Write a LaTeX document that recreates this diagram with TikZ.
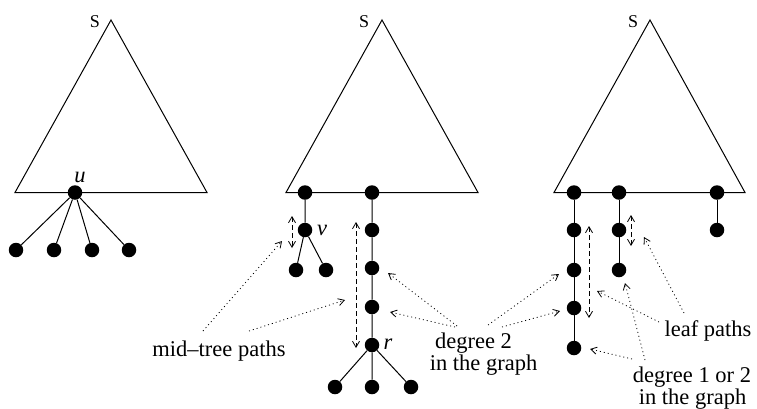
\documentclass[tikz,border=0pt]{standalone}
\usepackage{fontspec}
\setmainfont{Liberation Serif}
\usetikzlibrary{arrows.meta}
\begin{document}
\begin{tikzpicture}[x=1pt,y=-1pt,
  dot/.style={circle,fill=black,inner sep=0pt,minimum size=14.5pt},
  edge/.style={line width=1pt},
  tri/.style={line width=1pt,line join=miter},
  lbl/.style={font=\fontsize{22.5}{24}\selectfont,inner sep=0pt},
  ilbl/.style={font=\fontsize{22.5}{24}\selectfont\itshape,inner sep=0pt},
  slbl/.style={font=\fontsize{18}{19}\selectfont,inner sep=0pt},
  span/.style={dash pattern=on 5pt off 3pt,line width=0.8pt,
    {Straight Barb[length=6pt,width=7pt]}-{Straight Barb[length=6pt,width=7pt]}},
  ptr/.style={dash pattern=on 1pt off 3pt,line width=0.8pt,
    -{Straight Barb[length=6pt,width=7pt]}}]
\useasboundingbox (0,0) rectangle (757,408);

% ---------- triangles ----------
\coordinate (A1) at (111,20); \coordinate (L1) at (15,192.5); \coordinate (R1) at (207,192.5);
\coordinate (A2) at (382,20); \coordinate (L2) at (286,192.5); \coordinate (R2) at (478,192.5);
\coordinate (A3) at (650,20); \coordinate (L3) at (554,192.5); \coordinate (R3) at (745,192.5);
\draw[tri] (A1) -- (L1) -- (R1) -- cycle;
\draw[tri] (A2) -- (L2) -- (R2) -- cycle;
\draw[tri] (A3) -- (L3) -- (R3) -- cycle;
\node[slbl] (s1) at (95,22) {S};
\node[slbl] (s2) at (364,22) {S};
\node[slbl] (s3) at (633,22) {S};

% ---------- tree 1 ----------
\node[dot] (u) at (75,192.5) {};
\node[dot] (u1) at (16,250) {};
\node[dot] (u2) at (54,250) {};
\node[dot] (u3) at (92,250) {};
\node[dot] (u4) at (129,250) {};
\foreach \c in {u1,u2,u3,u4} \draw[edge] (u) -- (\c);
\node[ilbl] (ul) at (80,177) {u};

% ---------- tree 2 ----------
\node[dot] (a) at (305,192.5) {};
\node[dot] (v) at (305,230) {};
\node[dot] (v1) at (296,270) {};
\node[dot] (v2) at (326,270) {};
\draw[edge] (a) -- (v) (v) -- (v1) (v) -- (v2);
\node[ilbl] (vl) at (322,230) {v};

\node[dot] (b) at (372,192.5) {};
\node[dot] (c1) at (372,230) {};
\node[dot] (c2) at (372,268) {};
\node[dot] (c3) at (372,307) {};
\node[dot] (r) at (372,345) {};
\node[dot] (r1) at (335,387) {};
\node[dot] (r2) at (372,387) {};
\node[dot] (r3) at (411,387) {};
\draw[edge] (b) -- (c1) (c1) -- (c2) (c2) -- (c3) (c3) -- (r)
  (r) -- (r1) (r) -- (r2) (r) -- (r3);
\node[ilbl] (rl) at (388,344) {r};

\coordinate (va) at (292,216); \coordinate (vb) at (292,248);
\draw[span] (va) -- (vb);
\coordinate (ca) at (356,222); \coordinate (cb) at (356,348);
\draw[span] (ca) -- (cb);

% ---------- tree 3 ----------
\node[dot] (d1) at (574,192.5) {};
\node[dot] (d2) at (574,230) {};
\node[dot] (d3) at (574,270) {};
\node[dot] (d4) at (574,308) {};
\node[dot] (d5) at (574,348) {};
\draw[edge] (d1) -- (d2) (d2) -- (d3) (d3) -- (d4) (d4) -- (d5);
\node[dot] (e1) at (619,192.5) {};
\node[dot] (e2) at (619,230) {};
\node[dot] (e3) at (619,270) {};
\draw[edge] (e1) -- (e2) (e2) -- (e3);
\node[dot] (f1) at (717,192.5) {};
\node[dot] (f2) at (717,230) {};
\draw[edge] (f1) -- (f2);

\coordinate (da) at (589,226); \coordinate (db) at (589,318);
\draw[span] (da) -- (db);
\coordinate (ea) at (631,215); \coordinate (eb) at (631,246);
\draw[span] (ea) -- (eb);

% ---------- labels ----------
\node[lbl,anchor=base] (mid) at (219,356) {mid–tree paths};
\node[lbl,anchor=base] (deg2a) at (473.5,348) {degree 2};
\node[lbl,anchor=base] (deg2b) at (483.5,370.5) {in the graph};
\node[lbl,anchor=base] (leaf) at (708,336) {leaf paths};
\node[lbl,anchor=base] (deg1a) at (692,382) {degree 1 or 2};
\node[lbl,anchor=base] (deg1b) at (692.5,404) {in the graph};

% ---------- pointers ----------
\coordinate (m1s) at (203,331); \coordinate (m1t) at (282,241);
\coordinate (m2s) at (249,331); \coordinate (m2t) at (345,300);
\draw[ptr] (m1s) -- (m1t);
\draw[ptr] (m2s) -- (m2t);

\coordinate (g1s) at (457,326); \coordinate (g1t) at (388,273);
\coordinate (g2s) at (455,327); \coordinate (g2t) at (390,312);
\coordinate (g3s) at (488,325); \coordinate (g3t) at (559,274);
\coordinate (g4s) at (502,327); \coordinate (g4t) at (560,311);
\draw[ptr] (g1s) -- (g1t);
\draw[ptr] (g2s) -- (g2t);
\draw[ptr] (g3s) -- (g3t);
\draw[ptr] (g4s) -- (g4t);

\coordinate (l1s) at (659,322); \coordinate (l1t) at (597,291);
\coordinate (l2s) at (684,313); \coordinate (l2t) at (644,237);
\draw[ptr] (l1s) -- (l1t);
\draw[ptr] (l2s) -- (l2t);

\coordinate (h1s) at (645,360); \coordinate (h1t) at (625,283);
\coordinate (h2s) at (632,359); \coordinate (h2t) at (590,349);
\draw[ptr] (h1s) -- (h1t);
\draw[ptr] (h2s) -- (h2t);
\end{tikzpicture}
\end{document}
